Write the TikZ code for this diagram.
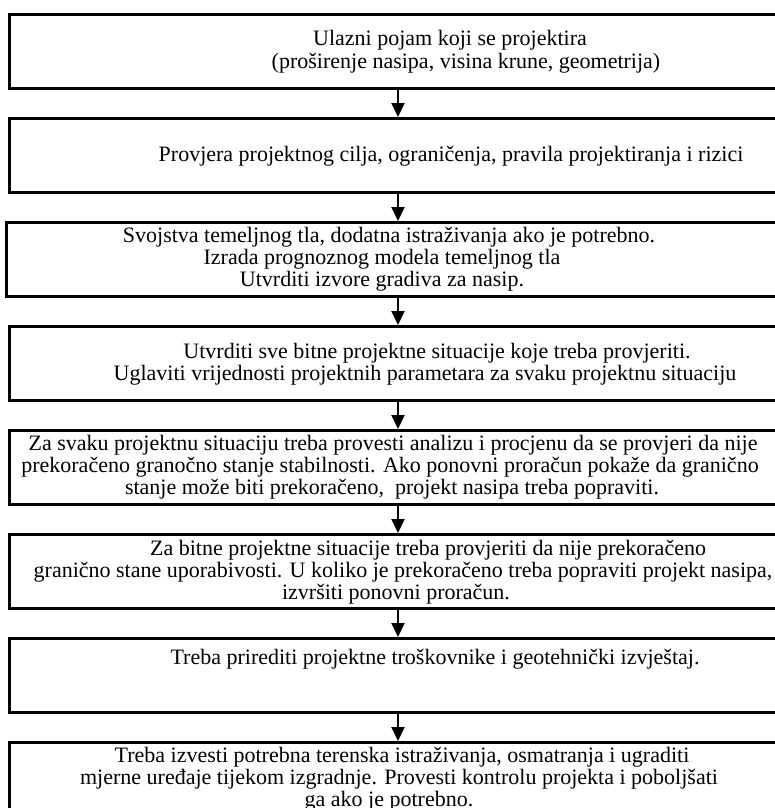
\documentclass[tikz,border=0pt]{standalone}
\usepackage{fontspec}
\setmainfont{Liberation Serif}
\usetikzlibrary{arrows.meta}
\begin{document}
\begin{tikzpicture}[x=1pt,y=-1pt,
  box/.style={draw, line width=2.6pt, minimum width=782pt, minimum height=74pt, inner sep=0pt, anchor=north west},
  txt/.style={font=\fontsize{22}{24}\selectfont, inner sep=0pt, anchor=base},
  arr/.style={line width=2pt, -{Triangle[length=14pt,width=13pt]}}]
\useasboundingbox[fill=white] (0,0) rectangle (775,808);
\clip (0,0) rectangle (775,808);
\coordinate (ax) at (398,0);
% boxes
\node[box] (b1) at (8,13) {};
\node[box] (b2) at (8,117) {};
\node[box] (b3) at (5,221) {};
\node[box] (b4) at (8,325) {};
\node[box] (b5) at (8,429) {};
\node[box] (b6) at (8,533) {};
\node[box] (b7) at (8,637) {};
\node[box] (b8) at (8,741) {};
% texts
\node[txt] (t1a) at (450,46) {Ulazni pojam koji se projektira};
\node[txt] (t1b) at (466,68) {(proširenje nasipa, visina krune, geometrija)};
\node[txt] (t2a) at (451,161) {Provjera projektnog cilja, ograničenja, pravila projektiranja i rizici};
\node[txt] (t3a) at (389,242) {Svojstva temeljnog tla, dodatna istraživanja ako je potrebno.};
\node[txt] (t3b) at (382,264) {Izrada prognoznog modela temeljnog tla};
\node[txt] (t3c) at (382,286) {Utvrditi izvore gradiva za nasip.};
\node[txt] (t4a) at (437,358) {Utvrditi sve bitne projektne situacije koje treba provjeriti.};
\node[txt] (t4b) at (425,380) {Uglaviti vrijednosti projektnih parametara za svaku projektnu situaciju};
\node[txt] (t5a) at (393,450.5) {Za svaku projektnu situaciju treba provesti analizu i procjenu da se provjeri da nije};
\node[txt] (t5b) at (390,472.5) {prekoračeno granočno stanje stabilnosti. Ako ponovni proračun pokaže da granično};
\node[txt] (t5c) at (392,494.5) {stanje može biti prekoračeno,\ \ projekt nasipa treba popraviti.};
\node[txt] (t6a) at (428,555) {Za bitne projektne situacije treba provjeriti da nije prekoračeno};
\node[txt] (t6b) at (403,577) {granično stane uporabivosti. U koliko je prekoračeno treba popraviti projekt nasipa,};
\node[txt] (t6c) at (396,599) {izvršiti ponovni proračun.};
\node[txt] (t7a) at (435,664) {Treba prirediti projektne troškovnike i geotehnički izvještaj.};
\node[txt] (t8a) at (402,762) {Treba izvesti potrebna terenska istraživanja, osmatranja i ugraditi};
\node[txt] (t8b) at (399,784) {mjerne uređaje tijekom izgradnje. Provesti kontrolu projekta i poboljšati};
\node[txt] (t8c) at (389,806) {ga ako je potrebno.};
% arrows
\draw[arr] (b1.south -| ax) -- (b2.north -| ax);
\draw[arr] (b2.south -| ax) -- (b3.north -| ax);
\draw[arr] (b3.south -| ax) -- (b4.north -| ax);
\draw[arr] (b4.south -| ax) -- (b5.north -| ax);
\draw[arr] (b5.south -| ax) -- (b6.north -| ax);
\draw[arr] (b6.south -| ax) -- (b7.north -| ax);
\draw[arr] (b7.south -| ax) -- (b8.north -| ax);
\end{tikzpicture}
\end{document}
